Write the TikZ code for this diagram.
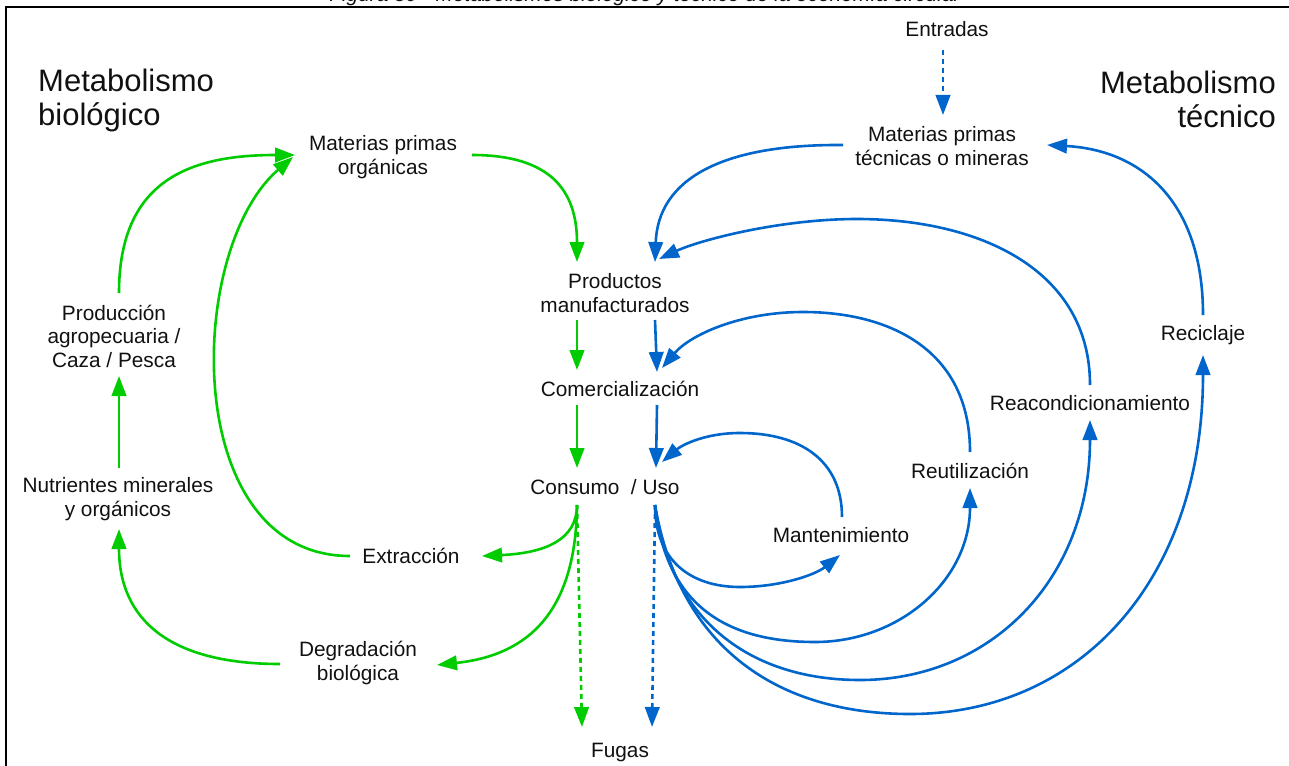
\documentclass[tikz,border=0pt]{standalone}
\usepackage{fontspec}
\setmainfont{Liberation Sans}
\usetikzlibrary{arrows.meta,calc}
\definecolor{gr}{HTML}{00CC00}
\definecolor{bl}{HTML}{0066CC}
\definecolor{tx}{HTML}{111111}
\tikzset{
  lbl/.style={font=\fontsize{20.8}{23.5}\selectfont, text=tx, align=center, inner sep=0pt},
  ttl/.style={font=\fontsize{31}{34}\selectfont, text=tx, inner sep=0pt},
  garr/.style={draw=gr, line width=2.6pt, -{Triangle[length=20pt,width=14.5pt]}},
  barr/.style={draw=bl, line width=2.6pt, -{Triangle[length=20pt,width=14.5pt]}},
  dotl/.style={dash pattern=on 5pt off 4pt},
}
\begin{document}
\begin{tikzpicture}[x=1pt,y=-1pt]
\clip (0,0) rectangle (1289,765);
\useasboundingbox (0,0) rectangle (1289,765);
% frame and caption
\draw[line width=1.5pt, black] (6,780) -- (6,7) -- (1300,7);
\node[anchor=base, font=\fontsize{20.8}{23}\selectfont\itshape, text=tx, inner sep=0pt] (cap) at (645,2) {Figura 30 - Metabolismos biológico y técnico de la economía circular};
% titles
\node[ttl, align=left, anchor=north west] (tbio) at (38,69) {Metabolismo\\biológico};
\node[ttl, align=right, anchor=north east] (ttec) at (1276,71) {Metabolismo\\técnico};
% nodes
\node[lbl] (ent) at (947,29) {Entradas};
\node[lbl] (mpt) at (942,146) {Materias primas\\técnicas o mineras};
\node[lbl] (mpo) at (383,157) {Materias primas\\orgánicas};
\node[lbl] (prod) at (615,293) {Productos\\manufacturados};
\node[lbl] (com) at (620,389) {Comercialización};
\node[lbl] (cons) at (605,487) {Consumo~~/ Uso};
\node[lbl] (fug) at (620,752) {Fugas};
\node[lbl] (prodag) at (114,336) {Producción\\agropecuaria /\\Caza / Pesca};
\node[lbl] (nutr) at (118,499) {Nutrientes minerales\\y orgánicos};
\node[lbl] (ext) at (411,556) {Extracción};
\node[lbl] (deg) at (358,663) {Degradación\\biológica};
\node[lbl] (mant) at (841,535) {Mantenimiento};
\node[lbl] (reut) at (970,471) {Reutilización};
\node[lbl] (reac) at (1090,403) {Reacondicionamiento};
\node[lbl] (rec) at (1203,335) {Reciclaje};
% green connectors
\draw[garr] ([shift={(5,-43)}]prodag.center) .. controls (119,180) and (190,155) .. ([shift={(-88,-2)}]mpo.center);
\draw[garr] ([shift={(-61,0)}]ext.center) .. controls (180,556) and (185,250) .. ([shift={(-90,0)}]mpo.center);
\draw[garr] ([shift={(89,-2)}]mpo.center) .. controls (550,155) and (577,190) .. ([shift={(-38,-31)}]prod.center);
\draw[garr] ([shift={(-38,27)}]prod.center) -- ([shift={(-43,-19)}]com.center);
\draw[garr] ([shift={(-43,16)}]com.center) -- ([shift={(-28,-19)}]cons.center);
\draw[garr] ([shift={(-28,18)}]cons.center) .. controls (577,540) and (545,553) .. ([shift={(71,0)}]ext.center);
\draw[garr] ([shift={(-28,18)}]cons.center) .. controls (576,610) and (530,655) .. ([shift={(79,2)}]deg.center);
\draw[garr, dotl] ([shift={(-28,18)}]cons.center) -- ([shift={(-38,-25)}]fug.center);
\draw[garr] ([shift={(-78,1)}]deg.center) .. controls (170,664) and (119,620) .. ([shift={(1,30)}]nutr.center);
\draw[garr] ([shift={(1,-31)}]nutr.center) -- ([shift={(5,40)}]prodag.center);
% blue connectors
\draw[barr, dotl] ([shift={(-4,21)}]ent.center) -- ([shift={(1,-31)}]mpt.center);
\draw[barr] ([shift={(-99,-1)}]mpt.center) .. controls (720,144) and (658,180) .. ([shift={(40,-31)}]prod.center);
\draw[barr] ([shift={(0,-18)}]reac.center) .. controls (1090,270) and (980,219) .. (857,219) .. controls (780,219) and (700,240) .. ([shift={(44,-34)}]prod.center);
\draw[barr] ([shift={(0,-20)}]rec.center) .. controls (1203,200) and (1140,150) .. ([shift={(105,-1)}]mpt.center);
\draw[barr] ([shift={(40,27)}]prod.center) -- ([shift={(37,-17)}]com.center);
\draw[barr] ([shift={(0,-19)}]reut.center) .. controls (970,350) and (890,312) .. (803,312) .. controls (740,312) and (690,335) .. ([shift={(42,-21)}]com.center);
\draw[barr] ([shift={(37,16)}]com.center) -- ([shift={(51,-19)}]cons.center);
\draw[barr] ([shift={(1,-18)}]mant.center) .. controls (842,460) and (800,433) .. (740,433) .. controls (705,433) and (682,445) .. ([shift={(57,-25)}]cons.center);
\draw[barr] ([shift={(50,18)}]cons.center) .. controls (655,560) and (690,587) .. (740,587) .. controls (780,587) and (815,575) .. ([shift={(-1,20)}]mant.center);
\draw[barr] ([shift={(50,18)}]cons.center) .. controls (665,600) and (720,642) .. (815,642) .. controls (900,642) and (970,580) .. ([shift={(0,17)}]reut.center);
\draw[barr] ([shift={(50,18)}]cons.center) .. controls (670,620) and (750,680) .. (860,680) .. controls (990,680) and (1090,580) .. ([shift={(0,17)}]reac.center);
\draw[barr] ([shift={(50,18)}]cons.center) .. controls (680,650) and (780,714) .. (910,714) .. controls (1080,714) and (1203,580) .. ([shift={(0,20)}]rec.center);
\draw[barr, dotl] ([shift={(50,18)}]cons.center) -- ([shift={(32,-25)}]fug.center);
\end{tikzpicture}
\end{document}
